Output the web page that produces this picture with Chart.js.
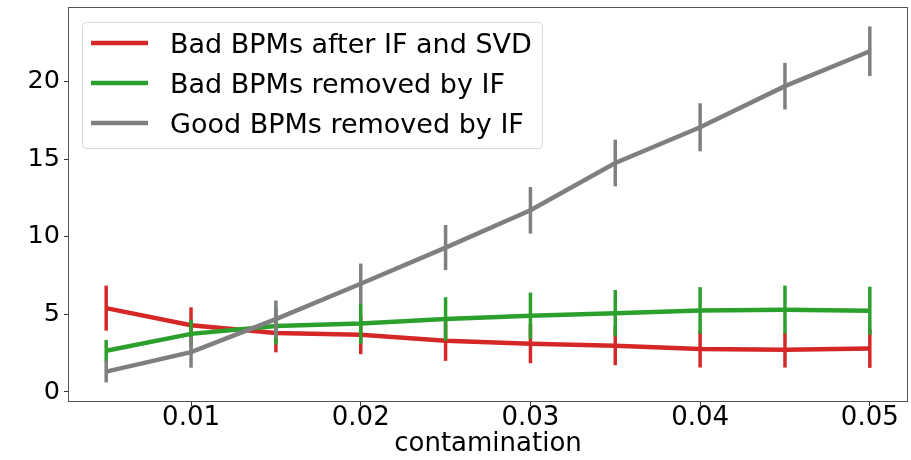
<!DOCTYPE html>
<html>
<head>
<meta charset="utf-8">
<script src="https://cdn.jsdelivr.net/npm/chart.js@4"></script>
<style>
  html, body { margin: 0; padding: 0; background: #fff; }
  #wrap { width: 911px; height: 460px; }
</style>
</head>
<body>
<div id="wrap"><canvas id="myChart"></canvas></div>
<script>
const contamination = [0.005, 0.01, 0.015, 0.02, 0.025, 0.03, 0.035, 0.04, 0.045, 0.05];
const badAfterSvd = [5.4, 4.3, 3.8, 3.68, 3.3, 3.1, 2.97, 2.77, 2.72, 2.8];
const badAfterSvdErr = [1.45, 1.15, 1.25, 1.25, 1.3, 1.25, 1.25, 1.2, 1.15, 1.25];
const badRemoved = [2.65, 3.74, 4.25, 4.4, 4.7, 4.9, 5.07, 5.25, 5.3, 5.23];
const badRemovedErr = [0.7, 0.9, 1.2, 1.3, 1.4, 1.5, 1.5, 1.5, 1.55, 1.55];
const goodRemoved = [1.31, 2.56, 4.69, 6.97, 9.3, 11.7, 14.75, 17.05, 19.7, 21.95];
const goodRemovedErr = [0.7, 1.0, 1.2, 1.3, 1.45, 1.5, 1.5, 1.55, 1.5, 1.6];
const xTicks = [0.01, 0.02, 0.03, 0.04, 0.05];
const yTicks = [0, 5, 10, 15, 20];

const FONT = "DejaVu Sans";

function points(ys) {
  return contamination.map((x, i) => ({ x: x, y: ys[i] }));
}

const errorBars = {
  id: "errorBars",
  afterDatasetDraw(chart, args) {
    const ds = chart.data.datasets[args.index];
    const y = chart.scales.y;
    const c = chart.ctx;
    c.save();
    c.strokeStyle = ds.borderColor;
    c.lineWidth = 3.5;
    args.meta.data.forEach((pt, i) => {
      const v = ds.data[i].y;
      const e = ds.errors[i];
      c.beginPath();
      c.moveTo(pt.x, y.getPixelForValue(v - e));
      c.lineTo(pt.x, y.getPixelForValue(v + e));
      c.stroke();
    });
    c.restore();
  },
};

const frameAndLegend = {
  id: "frameAndLegend",
  afterDraw(chart) {
    const c = chart.ctx;
    const a = chart.chartArea;
    c.save();
    c.strokeStyle = "#555";
    c.lineWidth = 1;
    c.strokeRect(a.left + 0.5, a.top + 0.5, a.right - a.left - 1, a.bottom - a.top - 1);

    // legend box
    const bx = 82, by = 22, bw = 460, bh = 126;
    c.fillStyle = "rgba(255,255,255,0.8)";
    c.strokeStyle = "#d9d9d9";
    c.beginPath();
    c.roundRect(bx + 0.5, by + 0.5, bw, bh, 4);
    c.fill();
    c.stroke();
    c.font = "27px '" + FONT + "'";
    c.textBaseline = "alphabetic";
    chart.data.datasets.forEach((ds, i) => {
      const ly = 43 + i * 40;
      c.strokeStyle = ds.borderColor;
      c.lineWidth = 4.5;
      c.beginPath();
      c.moveTo(91, ly);
      c.lineTo(148, ly);
      c.stroke();
      c.fillStyle = "#000";
      c.fillText(ds.label, 170, ly + 10);
    });
    c.restore();
  },
};

new Chart(document.getElementById("myChart"), {
  type: "line",
  data: {
    datasets: [
      {
        label: "Bad BPMs after IF and SVD",
        data: points(badAfterSvd),
        errors: badAfterSvdErr,
        borderColor: "#d62728",
        order: 2,
      },
      {
        label: "Bad BPMs removed by IF",
        data: points(badRemoved),
        errors: badRemovedErr,
        borderColor: "#2ca02c",
        order: 1,
      },
      {
        label: "Good BPMs removed by IF",
        data: points(goodRemoved),
        errors: goodRemovedErr,
        borderColor: "#7f7f7f",
        order: 0,
      },
    ],
  },
  options: {
    responsive: true,
    maintainAspectRatio: false,
    animation: false,
    layout: { padding: { top: 7, right: 3, left: 0, bottom: 0 } },
    elements: {
      line: { borderWidth: 4.5, tension: 0 },
      point: { radius: 0 },
    },
    plugins: {
      legend: { display: false },
      tooltip: { enabled: false },
    },
    scales: {
      x: {
        type: "linear",
        min: 0.00275,
        max: 0.05225,
        afterBuildTicks: (s) => { s.ticks = xTicks.map((v) => ({ value: v })); },
        afterFit: (s) => { s.height = 58; s.paddingLeft = 0; s.paddingRight = 0; },
        grid: { drawOnChartArea: false, drawTicks: true, tickLength: 4, color: "#333" },
        border: { display: false },
        ticks: {
          color: "#000",
          padding: -3,
          maxRotation: 0,
          font: { family: FONT, size: 26 },
          callback: (v) => v.toFixed(2),
        },
        title: {
          display: true,
          text: "contamination",
          color: "#000",
          padding: 0,
          font: { family: FONT, size: 26 },
        },
      },
      y: {
        min: -0.65,
        max: 24.8,
        afterBuildTicks: (s) => { s.ticks = yTicks.map((v) => ({ value: v })); },
        afterFit: (s) => { s.width = 68; s.paddingTop = 0; s.paddingBottom = 0; },
        grid: { drawOnChartArea: false, drawTicks: true, tickLength: 4, color: "#333" },
        border: { display: false },
        ticks: {
          color: "#000",
          padding: 4,
          font: { family: FONT, size: 25.5 },
        },
      },
    },
  },
  plugins: [errorBars, frameAndLegend],
});
</script>
</body>
</html>
